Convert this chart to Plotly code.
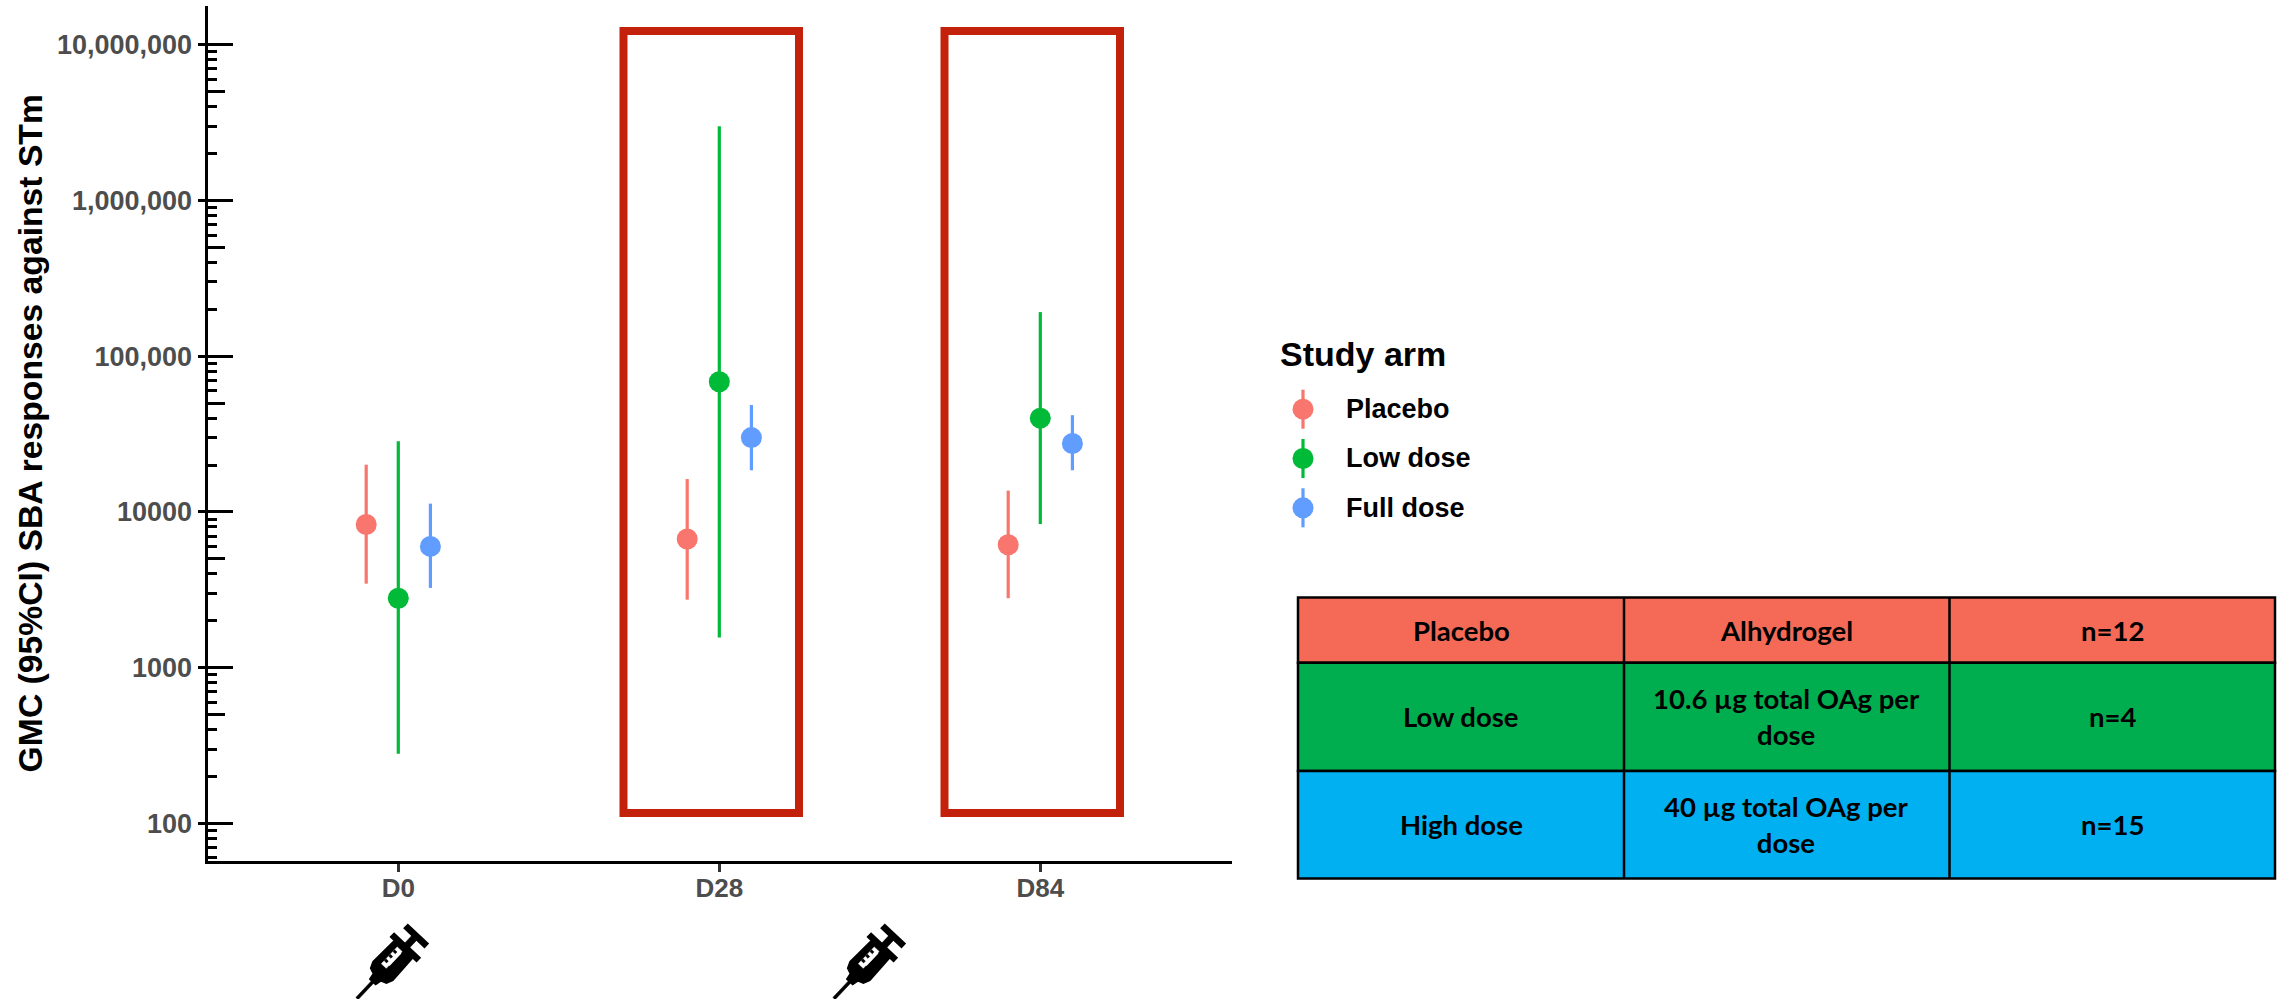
import math
import plotly.graph_objects as go

W, H = 2277, 999

# ---- data ----
timepoints = ["D0", "D28", "D84"]
arms = ["Placebo", "Low dose", "Full dose"]
arm_colors = ["#F8766D", "#00BA38", "#619CFF"]
placebo_gmc = [8300, 6700, 6150]
placebo_hi = [20100, 16250, 13700]
placebo_lo = [3460, 2730, 2790]
low_gmc = [2790, 68500, 40000]
low_hi = [28400, 3000000, 192000]
low_lo = [280, 1560, 8350]
full_gmc = [6000, 30000, 27500]
full_hi = [11300, 48600, 41800]
full_lo = [3250, 18500, 18500]
y_ticks = [100, 1000, 10000, 100000, 1000000, 10000000]
y_ticktext = ["100", "1000", "10000", "100,000", "1,000,000", "10,000,000"]
y_mid_ticks = [500, 5000, 50000, 500000, 5000000]
y_minor_ticks = [m * 10 ** e for e in range(1, 7) for m in (2, 3, 4, 6, 7, 8, 9) if 56 < m * 10 ** e < 1.8e7]
table_arm = ["Placebo", "Low dose", "High dose"]
table_desc = ["Alhydrogel", "10.6 µg total OAg per<br>dose", "40 µg total OAg per<br>dose"]
table_n = ["n=12", "n=4", "n=15"]
table_colors = ["#F46A56", "#00AE50", "#00B0F0"]

# ---- layout helpers (page pixels to paper fractions) ----
def fx(x): return x / W
def fy(y): return 1 - y / H
AX_L, AX_R, AX_T, AX_B = 207.5, 1232, 6, 860.5
PX_PER_CAT = 321
CAT0 = 398.3
x_range = [(AX_L - CAT0) / PX_PER_CAT, (AX_R - CAT0) / PX_PER_CAT]
def log_at(y): return 2 + (823.3 - y) / 155.7
y_range = [log_at(AX_B), log_at(AX_T)]
SANS = "Liberation Sans"
GREY = "#4D4D4D"

fig = go.Figure()
series = [(placebo_gmc, placebo_hi, placebo_lo), (low_gmc, low_hi, low_lo), (full_gmc, full_hi, full_lo)]
for i, (gmc, hi, lo) in enumerate(series):
    fig.add_trace(go.Scatter(
        x=[k + (i - 1) * 0.1 for k in range(len(timepoints))], y=gmc, mode="markers", name=arms[i],
        marker=dict(size=21, color=arm_colors[i], line=dict(width=0)), showlegend=False,
        error_y=dict(type="data", symmetric=False, array=[h - g for h, g in zip(hi, gmc)],
                     arrayminus=[g - l for g, l in zip(gmc, lo)], thickness=3.2, width=0, color=arm_colors[i]),
    ))

# empty traces holding the overlay tick axes
fig.add_trace(go.Scatter(x=[None], y=[None], yaxis="y2", showlegend=False, hoverinfo="skip"))
fig.add_trace(go.Scatter(x=[None], y=[None], yaxis="y3", showlegend=False, hoverinfo="skip"))

# hand-built key, since Plotly legends cannot show a vertical error bar
for i, arm in enumerate(arms):
    fig.add_trace(go.Scatter(
        x=[0], y=[i], xaxis="x2", yaxis="y4", mode="markers", name=arm, showlegend=False,
        marker=dict(size=21, color=arm_colors[i], line=dict(width=0)),
        error_y=dict(type="constant", value=0.396, thickness=3.2, width=0, color=arm_colors[i]),
    ))

dom_x = [fx(AX_L), fx(AX_R)]
dom_y = [fy(AX_B), fy(AX_T)]
overlay = dict(type="log", range=y_range, domain=dom_y, overlaying="y", anchor="x", side="left",
               showgrid=False, zeroline=False, showline=False, showticklabels=False, tickmode="array",
               ticks="inside", tickcolor="black", tickwidth=2.5)
layout = dict(
    width=W, height=H, margin=dict(l=0, r=0, t=0, b=0), paper_bgcolor="white", plot_bgcolor="white",
    showlegend=False, font=dict(family=SANS),
    xaxis=dict(domain=dom_x, range=x_range, tickmode="array", tickvals=list(range(len(timepoints))),
               ticktext=timepoints, ticks="outside", ticklen=8, tickwidth=2.5, tickcolor="#333333",
               showline=True, linecolor="black", linewidth=3, showgrid=False, zeroline=False,
               ticklabelstandoff=-6,
               tickfont=dict(family=SANS, size=26, color=GREY, weight=700)),
    yaxis=dict(type="log", domain=dom_y, range=y_range, tickmode="array", tickvals=y_ticks, ticktext=y_ticktext,
               ticks="outside", ticklen=7, tickwidth=2.5, tickcolor="black", showline=True, linecolor="black",
               linewidth=3, showgrid=False, zeroline=False, anchor="x",
               tickfont=dict(family=SANS, size=27, color=GREY, weight=700),
               minor=dict(tickmode="array", tickvals=y_minor_ticks, ticks="inside", ticklen=9,
                          tickwidth=2.5, tickcolor="black", showgrid=False),
               title=dict(text="GMC (95%CI) SBA responses against STm", standoff=5,
                          font=dict(family=SANS, size=33.7, color="black", weight=700))),
    yaxis2=dict(tickvals=y_ticks, ticklen=25, **overlay),
    yaxis3=dict(tickvals=y_mid_ticks, ticklen=17, **overlay),
    xaxis2=dict(domain=[fx(1273), fx(1333)], range=[-1, 1], visible=False, anchor="y4"),
    yaxis4=dict(domain=[fy(537), fy(380)], range=[2.592, -0.592], visible=False, anchor="x2"),
)
fig.update_layout(**layout)

shapes = []
annotations = []

# highlight boxes
BOX = "#C4210D"
for x0, x1 in [(623.5, 799), (944.5, 1120)]:
    shapes.append(dict(type="rect", xref="paper", yref="paper", x0=fx(x0), x1=fx(x1), y0=fy(813), y1=fy(31),
                       line=dict(color=BOX, width=8), fillcolor="rgba(0,0,0,0)", layer="above"))

# key text
annotations.append(dict(text="Study arm", x=fx(1278), y=fy(354), xref="paper", yref="paper", xanchor="left",
                        yanchor="middle", showarrow=False, font=dict(family=SANS, size=34, color="black", weight=700)))
for i, arm in enumerate(arms):
    annotations.append(dict(text=arm, x=fx(1344), y=fy(409 + i * 49.3), xref="paper", yref="paper", xanchor="left",
                            yanchor="middle", showarrow=False,
                            font=dict(family=SANS, size=27, color="black", weight=700)))

# table
col_x = [1298, 1624, 1949.5, 2275]
row_y = [597.5, 662.7, 771, 878.5]
TFONT = dict(family="Lato", size=27.5, color="black", weight=700)
for r in range(3):
    shapes.append(dict(type="rect", xref="paper", yref="paper", x0=fx(col_x[0]), x1=fx(col_x[3]),
                       y0=fy(row_y[r + 1]), y1=fy(row_y[r]), fillcolor=table_colors[r],
                       line=dict(color="black", width=2.5), layer="above"))
    cells = [table_arm[r], table_desc[r], table_n[r]]
    for c in range(3):
        annotations.append(dict(text=cells[c], x=fx((col_x[c] + col_x[c + 1]) / 2), y=fy((row_y[r] + row_y[r + 1]) / 2),
                                xref="paper", yref="paper", xanchor="center", yanchor="middle", showarrow=False,
                                font=TFONT))
for cx in col_x[1:3]:
    shapes.append(dict(type="line", xref="paper", yref="paper", x0=fx(cx), x1=fx(cx), y0=fy(row_y[3]), y1=fy(row_y[0]),
                       line=dict(color="black", width=2.5), layer="above"))

# syringe icons: local frame t along the barrel from the needle tip, s across it
def syringe(tip_x, tip_y):
    ux, uy = 0.687, -0.727
    vx, vy = 0.727, 0.687
    def poly(pts, color, stroke=0.5):
        d = "M " + " L ".join(f"{fx(tip_x + 1.05 * t * ux + 1.12 * s * vx):.5f},{fy(tip_y + 1.05 * t * uy + 1.12 * s * vy):.5f}" for t, s in pts) + " Z"
        shapes.append(dict(type="path", xref="paper", yref="paper", path=d, fillcolor=color,
                           line=dict(color=color, width=stroke), layer="above"))
    k = "black"
    poly([(0, -1.4), (24, -1.4), (24, 1.4), (0, 1.4)], k)
    poly([(22, -3.4), (28, -4.5), (30, -9.5), (36, -12), (66, -11), (66, 11), (36, 12), (30, 9.5), (28, 4.5), (22, 3.4)], k, 2)
    poly([(65, -15.5), (69, -15.5), (69, 15.5), (65, 15.5)], k, 2.5)
    poly([(69, -3), (82, -3), (82, 3), (69, 3)], k)
    poly([(80, -12), (84, -12), (84, 12), (80, 12)], k, 2.5)
    # scale window on the barrel
    poly([(40, -5.5), (62, -5.5), (62, 0.5), (40, 0.5)], "white")
    poly([(44, -1), (60, -1), (60, 1), (44, 1)], "white")
    for t0 in (44, 50, 56):
        poly([(t0, -5.5), (t0 + 2.4, -5.5), (t0 + 2.4, -2.6), (t0, -2.6)], k)

syringe(357, 998.5)
syringe(834, 998.5)

fig.update_layout(shapes=shapes, annotations=annotations)
fig.write_html("out.html", config=dict(displayModeBar=False),
               post_script="document.body.style.margin='0';document.body.style.overflow='hidden';")
